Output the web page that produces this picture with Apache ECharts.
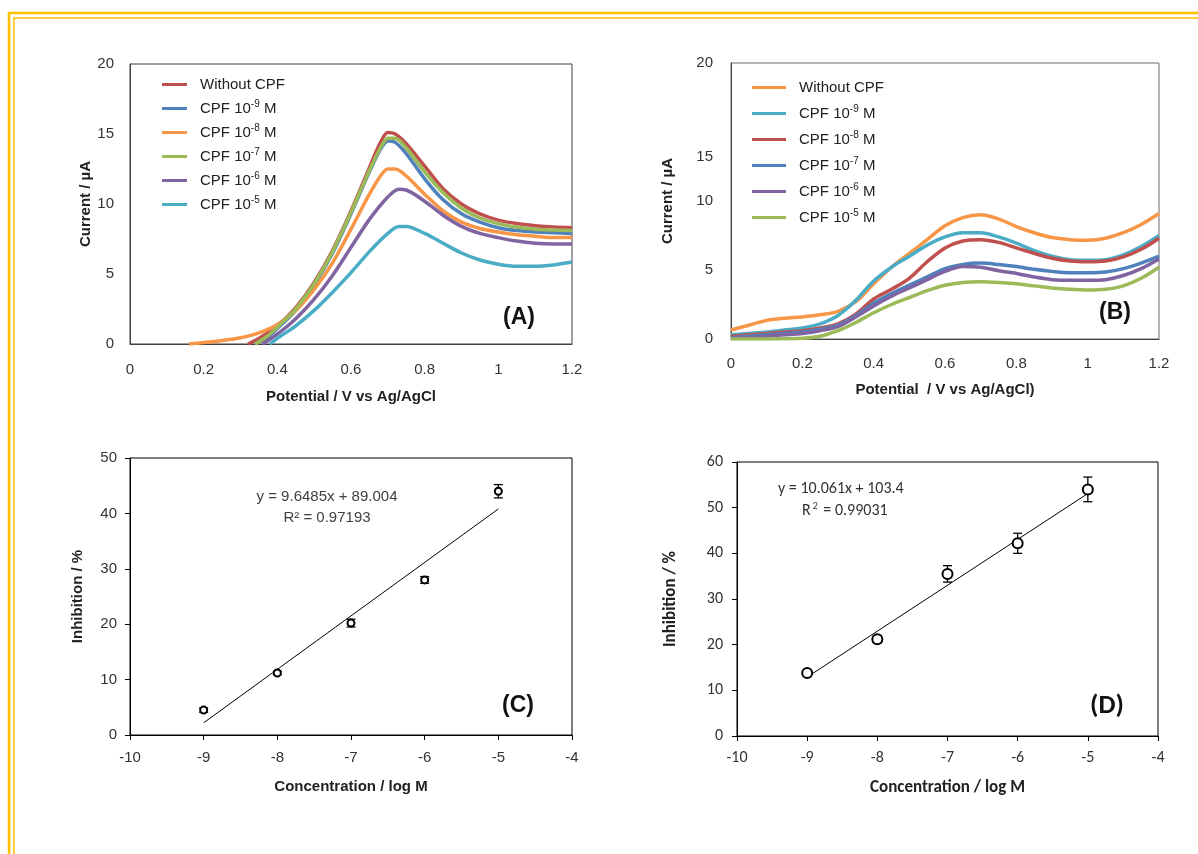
<!DOCTYPE html>
<html>
<head>
<meta charset="utf-8">
<script src="https://cdn.jsdelivr.net/npm/echarts@6/dist/echarts.min.js"></script>
<style>
  html, body { margin: 0; padding: 0; background: #fff; }
  #main { width: 1198px; height: 854px; }
</style>
</head>
<body>
<div id="main"></div>
<script>
// ---- panel A : DPV, [potential V, current uA]
const aWithout = [[0.32,0],[0.35,0.4],[0.4,1.3],[0.45,2.6],[0.5,4.4],[0.55,6.7],[0.6,9.5],[0.65,12.6],[0.68,14.4],[0.7,15.1],[0.72,15.0],[0.75,14.3],[0.8,12.7],[0.85,11.1],[0.9,10.0],[0.95,9.3],[1.0,8.85],[1.05,8.6],[1.1,8.45],[1.15,8.35],[1.2,8.3]];
const aCpf9 = [[0.34,0],[0.37,0.4],[0.4,1.1],[0.45,2.4],[0.5,4.2],[0.55,6.5],[0.6,9.3],[0.65,12.3],[0.68,13.9],[0.7,14.5],[0.72,14.4],[0.75,13.6],[0.8,11.8],[0.85,10.3],[0.9,9.3],[0.95,8.7],[1.0,8.3],[1.05,8.1],[1.1,8.0],[1.15,7.95],[1.2,7.9]];
const aCpf8 = [[0.16,0],[0.2,0.1],[0.25,0.25],[0.3,0.45],[0.35,0.8],[0.4,1.4],[0.45,2.4],[0.5,3.9],[0.55,5.8],[0.6,8.2],[0.65,10.7],[0.68,12.0],[0.7,12.5],[0.72,12.5],[0.75,12.0],[0.8,10.7],[0.85,9.5],[0.9,8.7],[0.95,8.25],[1.0,8.0],[1.05,7.8],[1.1,7.7],[1.15,7.6],[1.2,7.6]];
const aCpf7 = [[0.34,0],[0.37,0.5],[0.4,1.2],[0.45,2.5],[0.5,4.3],[0.55,6.6],[0.6,9.4],[0.65,12.4],[0.68,14.0],[0.7,14.7],[0.72,14.7],[0.75,14.0],[0.8,12.3],[0.85,10.8],[0.9,9.7],[0.95,9.0],[1.0,8.6],[1.05,8.35],[1.1,8.2],[1.15,8.15],[1.2,8.1]];
const aCpf6 = [[0.36,0],[0.4,0.7],[0.45,1.8],[0.5,3.2],[0.55,4.9],[0.6,6.9],[0.65,8.9],[0.7,10.5],[0.73,11.05],[0.75,11.0],[0.8,10.2],[0.85,9.2],[0.9,8.4],[0.95,7.9],[1.0,7.6],[1.05,7.35],[1.1,7.2],[1.15,7.15],[1.2,7.15]];
const aCpf5 = [[0.38,0],[0.4,0.4],[0.45,1.3],[0.5,2.4],[0.55,3.7],[0.6,5.1],[0.65,6.6],[0.7,7.9],[0.73,8.4],[0.75,8.4],[0.8,7.9],[0.85,7.2],[0.9,6.5],[0.95,6.0],[1.0,5.7],[1.05,5.55],[1.1,5.55],[1.15,5.65],[1.2,5.85]];

// ---- panel B
const bPot = [0,0.05,0.1,0.15,0.2,0.25,0.3,0.35,0.4,0.45,0.5,0.55,0.6,0.65,0.7,0.75,0.8,0.85,0.9,0.95,1.0,1.05,1.1,1.15,1.2];
const bWithout = [0.65,1.0,1.35,1.5,1.6,1.75,2.0,2.7,4.0,5.2,6.2,7.2,8.2,8.8,9.0,8.7,8.15,7.7,7.35,7.2,7.15,7.3,7.7,8.3,9.1];
const bCpf9 = [0.3,0.4,0.5,0.65,0.8,1.1,1.7,2.8,4.2,5.2,6.0,6.8,7.4,7.7,7.7,7.4,6.95,6.4,6.0,5.75,5.7,5.75,6.1,6.7,7.5];
const bCpf8 = [0.2,0.3,0.4,0.5,0.6,0.8,1.1,1.8,2.9,3.6,4.4,5.6,6.6,7.1,7.2,7.0,6.6,6.2,5.85,5.65,5.6,5.65,5.95,6.5,7.3];
const bCpf7 = [0.1,0.2,0.3,0.4,0.5,0.7,1.0,1.7,2.6,3.3,3.9,4.5,5.1,5.4,5.5,5.4,5.25,5.05,4.9,4.8,4.8,4.85,5.1,5.5,6.0];
const bCpf6 = [0.05,0.1,0.2,0.3,0.4,0.6,0.9,1.6,2.4,3.1,3.7,4.3,4.9,5.25,5.2,4.95,4.75,4.5,4.3,4.25,4.25,4.3,4.6,5.1,5.8];
const bCpf5 = [0,0,0,0.02,0.05,0.2,0.6,1.2,1.9,2.5,3.0,3.5,3.9,4.1,4.15,4.1,4.0,3.85,3.7,3.6,3.55,3.6,3.85,4.4,5.2];

// ---- panel C / D : inhibition vs log concentration
const concC = [-9,-8,-7,-6,-5];
const inhC = [4.5,11.2,20.2,28.0,44.0];
const errC = [0.4,0.3,0.7,0.6,1.2];
const fitC = [[-9,2.2],[-5,40.8]];
const concD = [-9,-8,-7,-6,-5];
const inhD = [13.8,21.2,35.5,42.2,54.0];
const errD = [0.5,0.8,1.8,2.2,2.7];
const fitD = [[-9,12.9],[-5,53.1]];

const namesA = ['Without CPF','CPF 10-9 M','CPF 10-8 M','CPF 10-7 M','CPF 10-6 M','CPF 10-5 M'];
const colorsA = ['#C0504D','#4F81BD','#F79646','#9BBB59','#8064A2','#4BACC6'];
const colorsB = ['#F79646','#4BACC6','#C0504D','#4F81BD','#8064A2','#9BBB59'];

const ARIAL = 'Liberation Sans, Arial, sans-serif';
const CALI = 'Carlito, Lato, sans-serif';

function supName(name) {
  return name.replace(/10(-\d)/, '10{sup|$1}');
}

function valAxis(grid, min, max, interval, opt) {
  return Object.assign({
    type: 'value', gridIndex: grid, min: min, max: max, interval: interval,
    splitLine: { show: false },
    axisLine: { show: true, onZero: false, lineStyle: { color: '#404040', width: 1 } },
    axisTick: { show: false },
    axisLabel: { fontFamily: ARIAL, fontSize: 15, color: '#333', margin: 16 },
    nameLocation: 'middle',
    nameTextStyle: { fontFamily: ARIAL, fontSize: 15, fontWeight: 'bold', color: '#222' }
  }, opt);
}

const chart = echarts.init(document.getElementById('main'));

const series = [];
[aWithout, aCpf9, aCpf8, aCpf7, aCpf6, aCpf5].forEach((d, i) => {
  series.push({ name: namesA[i], type: 'line', xAxisIndex: 0, yAxisIndex: 0, data: d,
    showSymbol: false, smooth: 0.3, lineStyle: { width: 3.5, color: colorsA[i] }, itemStyle: { color: colorsA[i] } });
});
[bWithout, bCpf9, bCpf8, bCpf7, bCpf6, bCpf5].forEach((d, i) => {
  series.push({ name: namesA[i] + ' ', type: 'line', xAxisIndex: 1, yAxisIndex: 1,
    data: bPot.map((x, j) => [x, d[j]]),
    showSymbol: false, smooth: 0.3, lineStyle: { width: 3.5, color: colorsB[i] }, itemStyle: { color: colorsB[i] } });
});

function errBars(ax, xs, ys, es, cap) {
  return {
    type: 'custom', xAxisIndex: ax, yAxisIndex: ax, z: 5,
    data: xs.map((x, i) => [x, ys[i] - es[i], ys[i] + es[i]]),
    encode: { x: 0, y: [1, 2] },
    renderItem: function (params, api) {
      const lo = api.coord([api.value(0), api.value(1)]);
      const hi = api.coord([api.value(0), api.value(2)]);
      const st = { stroke: '#000', lineWidth: 1.3 };
      return { type: 'group', children: [
        { type: 'line', shape: { x1: lo[0], y1: lo[1], x2: hi[0], y2: hi[1] }, style: st },
        { type: 'line', shape: { x1: lo[0] - cap, y1: lo[1], x2: lo[0] + cap, y2: lo[1] }, style: st },
        { type: 'line', shape: { x1: hi[0] - cap, y1: hi[1], x2: hi[0] + cap, y2: hi[1] }, style: st }
      ] };
    }
  };
}

series.push({ type: 'line', xAxisIndex: 2, yAxisIndex: 2, data: fitC, showSymbol: false, lineStyle: { color: '#000', width: 1 } });
series.push(errBars(2, concC, inhC, errC, 4.5));
series.push({ type: 'scatter', xAxisIndex: 2, yAxisIndex: 2, data: concC.map((x, i) => [x, inhC[i]]),
  symbol: 'emptyCircle', symbolSize: 7, itemStyle: { color: '#000', borderColor: '#000', borderWidth: 2, opacity: 1 }, z: 6 });

series.push({ type: 'line', xAxisIndex: 3, yAxisIndex: 3, data: fitD, showSymbol: false, lineStyle: { color: '#000', width: 1 } });
series.push(errBars(3, concD, inhD, errD, 4.5));
series.push({ type: 'scatter', xAxisIndex: 3, yAxisIndex: 3, data: concD.map((x, i) => [x, inhD[i]]),
  symbol: 'emptyCircle', symbolSize: 10, itemStyle: { color: '#000', borderColor: '#000', borderWidth: 1.6, opacity: 1 }, z: 6 });

const legendText = {
  fontFamily: ARIAL, fontSize: 15, color: '#222', padding: [0, 0, 0, 8],
  rich: { sup: { fontFamily: ARIAL, fontSize: 10, color: '#222', padding: [0, 0, 9, 0] } }
};

const option = {
  animation: false,
  backgroundColor: '#fff',
  grid: [
    { left: 130, top: 64, width: 442, height: 280, show: true, borderColor: '#404040', borderWidth: 1 },
    { left: 731, top: 63, width: 428, height: 276, show: true, borderColor: '#6a6a6a', borderWidth: 1 },
    { left: 130, top: 458, width: 442, height: 277, show: true, borderColor: '#000', borderWidth: 1 },
    { left: 737, top: 462, width: 421, height: 274, show: true, borderColor: '#000', borderWidth: 1 }
  ],
  xAxis: [
    valAxis(0, 0, 1.2, 0.2, { name: 'Potential / V vs Ag/AgCl', nameGap: 45, axisLabel: { fontFamily: ARIAL, fontSize: 15, color: '#333', margin: 18 } }),
    valAxis(1, 0, 1.2, 0.2, { name: 'Potential  / V vs Ag/AgCl)', nameGap: 43, axisLabel: { fontFamily: ARIAL, fontSize: 15, color: '#333', margin: 17 } }),
    valAxis(2, -10, -4, 1, { name: 'Concentration / log M', nameGap: 44,
      axisLine: { onZero: false, lineStyle: { color: '#000' } }, axisTick: { show: true, length: 5, lineStyle: { color: '#000' } },
      axisLabel: { fontFamily: ARIAL, fontSize: 15, color: '#333', margin: 15 } }),
    valAxis(3, -10, -4, 1, { name: 'Concentration / log M', nameGap: 43,
      axisLine: { onZero: false, lineStyle: { color: '#000' } }, axisTick: { show: true, length: 5, lineStyle: { color: '#000' } },
      axisLabel: { fontFamily: CALI, fontSize: 16, color: '#333', margin: 14 },
      nameTextStyle: { fontFamily: CALI, fontSize: 17, fontWeight: 'bold', color: '#222' } })
  ],
  yAxis: [
    valAxis(0, 0, 20, 5, { name: 'Current / µA', nameGap: 34 }),
    valAxis(1, 0, 20, 5, { name: 'Current / µA', nameGap: 56,
      axisLabel: { fontFamily: ARIAL, fontSize: 15, color: '#333', margin: 18, formatter: v => (v === 15 ? '' : v) } }),
    valAxis(2, 0, 50, 10, { name: 'Inhibition / %', nameGap: 45,
      axisLine: { onZero: false, lineStyle: { color: '#000' } }, axisTick: { show: true, length: 5, lineStyle: { color: '#000' } },
      axisLabel: { fontFamily: ARIAL, fontSize: 15, color: '#333', margin: 13 } }),
    valAxis(3, 0, 60, 10, { name: 'Inhibition / %', nameGap: 58,
      axisLine: { onZero: false, lineStyle: { color: '#000' } }, axisTick: { show: true, length: 5, lineStyle: { color: '#000' } },
      axisLabel: { fontFamily: CALI, fontSize: 16, color: '#333', margin: 14 },
      nameTextStyle: { fontFamily: CALI, fontSize: 17, fontWeight: 'bold', color: '#222' } })
  ],
  legend: [
    { orient: 'vertical', left: 157, top: 72, itemWidth: 25, itemHeight: 3, itemGap: 7, icon: 'rect',
      data: namesA, formatter: supName, textStyle: legendText, selectedMode: false },
    { orient: 'vertical', left: 747, top: 75, itemWidth: 34, itemHeight: 3, itemGap: 9, icon: 'rect',
      data: namesA.map(n => n + ' '), formatter: n => supName(n.trim()), textStyle: legendText, selectedMode: false }
  ],
  graphic: [
    { type: 'rect', silent: true, shape: { x: 9, y: 13, width: 1400, height: 1000 }, style: { fill: 'none', stroke: '#FFC000', lineWidth: 2.5 } },
    { type: 'rect', silent: true, shape: { x: 14, y: 18, width: 1400, height: 1000 }, style: { fill: 'none', stroke: '#FFC000', lineWidth: 1.5 } },
    { type: 'text', x: 713, y: 157, style: { text: '15', fontFamily: ARIAL, fontSize: 15, fill: '#333', textAlign: 'right', textVerticalAlign: 'middle' } },
    { type: 'text', x: 519, y: 318, style: { text: '(A)', fontFamily: ARIAL, fontSize: 23, fontWeight: 'bold', fill: '#111', textAlign: 'center', textVerticalAlign: 'middle' } },
    { type: 'text', x: 1115, y: 313, style: { text: '(B)', fontFamily: ARIAL, fontSize: 23, fontWeight: 'bold', fill: '#111', textAlign: 'center', textVerticalAlign: 'middle' } },
    { type: 'text', x: 518, y: 706, style: { text: '(C)', fontFamily: ARIAL, fontSize: 23, fontWeight: 'bold', fill: '#111', textAlign: 'center', textVerticalAlign: 'middle' } },
    { type: 'text', x: 1107, y: 706, style: { text: '(D)', fontFamily: CALI, fontSize: 27, fontWeight: 'bold', fill: '#111', textAlign: 'center', textVerticalAlign: 'middle' } },
    { type: 'text', x: 327, y: 497, style: { text: 'y = 9.6485x + 89.004', fontFamily: ARIAL, fontSize: 15, fill: '#404040', textAlign: 'center', textVerticalAlign: 'middle' } },
    { type: 'text', x: 327, y: 518, style: { text: 'R² = 0.97193', fontFamily: ARIAL, fontSize: 15, fill: '#404040', textAlign: 'center', textVerticalAlign: 'middle' } },
    { type: 'text', x: 778, y: 489, style: { text: 'y = 10.061x + 103.4', fontFamily: CALI, fontSize: 16, fill: '#333', textAlign: 'left', textVerticalAlign: 'middle' } },
    { type: 'text', x: 802, y: 511, style: { text: 'R{sup|2} = 0.99031', fontFamily: CALI, fontSize: 16, fill: '#333', textAlign: 'left', textVerticalAlign: 'middle',
      rich: { sup: { fontFamily: CALI, fontSize: 10, fill: '#333', padding: [0, 2, 9, 2] } } } }
  ],
  series: series
};

chart.setOption(option);
window.addEventListener('resize', function () { chart.resize(); });
</script>
</body>
</html>
